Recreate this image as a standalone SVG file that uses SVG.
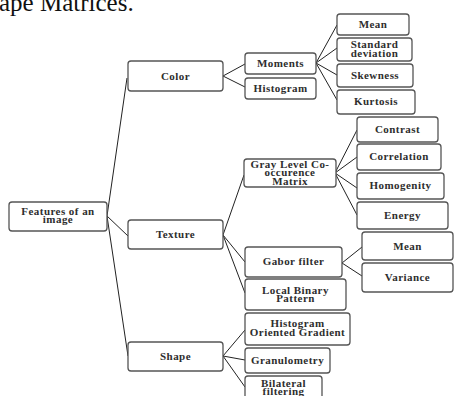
<svg xmlns="http://www.w3.org/2000/svg" width="454" height="396" viewBox="0 0 454 396">
  <style>
    .box rect { fill: #ffffff; stroke: #555555; stroke-width: 1.3; }
    .box text { font-family: "Liberation Serif", "Times New Roman", serif; font-size: 11px; font-weight: bold; letter-spacing: 0.45px; fill: #2e2e2e; text-anchor: middle; }
    .edges line { stroke: #222222; stroke-width: 1; }
    .caption { font-family: "Liberation Serif", "Times New Roman", serif; font-size: 25px; fill: #111111; }
  </style>
  <rect width="454" height="396" fill="#ffffff"/>

  <!-- tail of the preceding caption line -->
  <text class="caption" x="-1" y="11">ape Matrices.</text>

  <g id="connectors" class="edges">
    <!-- root to categories -->
    <line x1="107" y1="216" x2="127" y2="78"/>
    <line x1="107" y1="216" x2="128" y2="236"/>
    <line x1="107" y1="216" x2="128" y2="356"/>
    <!-- color -->
    <line x1="223" y1="76" x2="245" y2="64"/>
    <line x1="223" y1="76" x2="245" y2="87"/>
    <line x1="316" y1="63" x2="337" y2="25"/>
    <line x1="316" y1="63" x2="337" y2="48"/>
    <line x1="316" y1="63" x2="337" y2="75"/>
    <line x1="316" y1="63" x2="337" y2="100"/>
    <!-- texture -->
    <line x1="223" y1="235" x2="244" y2="175"/>
    <line x1="223" y1="235" x2="245" y2="262"/>
    <line x1="223" y1="235" x2="245" y2="293"/>
    <line x1="335" y1="173" x2="357" y2="130"/>
    <line x1="335" y1="173" x2="357" y2="157"/>
    <line x1="335" y1="173" x2="357" y2="188"/>
    <line x1="335" y1="173" x2="357" y2="215"/>
    <line x1="342" y1="263" x2="362" y2="247"/>
    <line x1="342" y1="263" x2="362" y2="276"/>
    <!-- shape -->
    <line x1="223" y1="356" x2="245" y2="330"/>
    <line x1="223" y1="356" x2="245" y2="360"/>
    <line x1="223" y1="356" x2="245" y2="387"/>
  </g>

  <g id="features" class="box">
    <rect x="9" y="202" width="98" height="29" rx="3"/>
    <text x="58" y="214.5">Features of an</text>
    <text x="58" y="223">image</text>
  </g>

  <g id="color" class="box">
    <rect x="128" y="61" width="95" height="30" rx="3"/>
    <text x="175.5" y="79.5">Color</text>
  </g>
  <g id="moments" class="box">
    <rect x="245" y="53" width="71" height="21" rx="3"/>
    <text x="280.5" y="67">Moments</text>
  </g>
  <g id="histogram" class="box">
    <rect x="245" y="78" width="71" height="21" rx="3"/>
    <text x="280.5" y="92">Histogram</text>
  </g>
  <g id="mean-moment" class="box">
    <rect x="337" y="14" width="72" height="21" rx="3"/>
    <text x="373" y="28">Mean</text>
  </g>
  <g id="std-dev" class="box">
    <rect x="337" y="38" width="75" height="23" rx="3"/>
    <text x="374.5" y="48">Standard</text>
    <text x="374.5" y="56.8">deviation</text>
  </g>
  <g id="skewness" class="box">
    <rect x="337" y="64" width="76" height="23" rx="3"/>
    <text x="375" y="79">Skewness</text>
  </g>
  <g id="kurtosis" class="box">
    <rect x="337" y="90" width="78" height="24" rx="3"/>
    <text x="376" y="105">Kurtosis</text>
  </g>

  <g id="texture" class="box">
    <rect x="128" y="220" width="95" height="29" rx="3"/>
    <text x="175.5" y="238">Texture</text>
  </g>
  <g id="glcm" class="box">
    <rect x="244" y="159" width="92" height="28" rx="3"/>
    <text x="290" y="167.6">Gray Level Co-</text>
    <text x="290" y="176.1">occurence</text>
    <text x="290" y="184.6">Matrix</text>
  </g>
  <g id="contrast" class="box">
    <rect x="357" y="117" width="81" height="25" rx="3"/>
    <text x="397.5" y="132.5">Contrast</text>
  </g>
  <g id="correlation" class="box">
    <rect x="357" y="144" width="84" height="26" rx="3"/>
    <text x="399" y="160">Correlation</text>
  </g>
  <g id="homogenity" class="box">
    <rect x="357" y="173" width="87" height="26" rx="3"/>
    <text x="400.5" y="189">Homogenity</text>
  </g>
  <g id="energy" class="box">
    <rect x="357" y="202" width="91" height="27" rx="3"/>
    <text x="402.5" y="219">Energy</text>
  </g>
  <g id="gabor" class="box">
    <rect x="245" y="247" width="97" height="30" rx="3"/>
    <text x="293.5" y="265">Gabor filter</text>
  </g>
  <g id="mean-gabor" class="box">
    <rect x="362" y="232" width="91" height="28" rx="3"/>
    <text x="407.5" y="249.5">Mean</text>
  </g>
  <g id="variance" class="box">
    <rect x="362" y="263" width="91" height="29" rx="3"/>
    <text x="407.5" y="281">Variance</text>
  </g>
  <g id="lbp" class="box">
    <rect x="245" y="279" width="101" height="31" rx="3"/>
    <text x="295.5" y="293.8">Local Binary</text>
    <text x="295.5" y="302">Pattern</text>
  </g>

  <g id="shape" class="box">
    <rect x="128" y="342" width="95" height="29" rx="3"/>
    <text x="175.5" y="360">Shape</text>
  </g>
  <g id="hog" class="box">
    <rect x="245" y="313" width="105" height="32" rx="3"/>
    <text x="297.5" y="327">Histogram</text>
    <text x="297.5" y="335.8">Oriented Gradient</text>
  </g>
  <g id="granulometry" class="box">
    <rect x="245" y="348" width="85" height="25" rx="3"/>
    <text x="287.5" y="364">Granulometry</text>
  </g>
  <g id="bilateral" class="box">
    <rect x="245" y="376" width="77" height="26" rx="3"/>
    <text x="283.5" y="386.5">Bilateral</text>
    <text x="283.5" y="394.5">filtering</text>
  </g>
</svg>
